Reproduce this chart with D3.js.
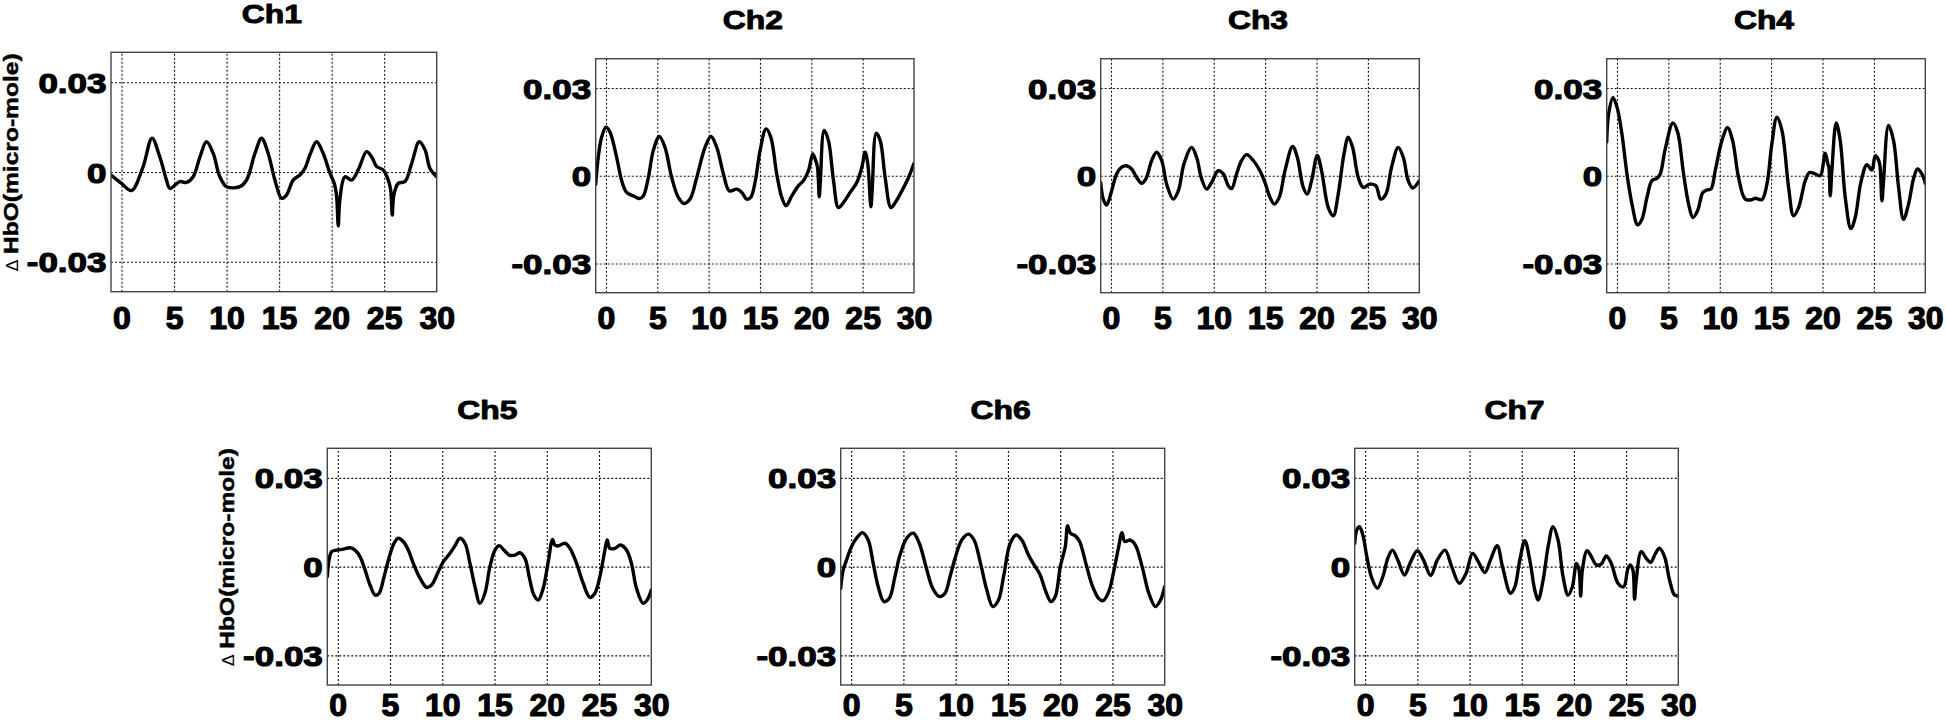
<!DOCTYPE html>
<html>
<head>
<meta charset="utf-8">
<script src="https://cdn.jsdelivr.net/npm/d3@7"></script>
<style>
  body { margin: 0; background: #fff; }
  svg { display: block; }
  text { font-family: "Liberation Sans", Arial, Helvetica, sans-serif; font-weight: bold; fill: #000; }
</style>
</head>
<body>
<svg id="chart" width="1946" height="723"></svg>
<script>
// ---------------- data ----------------
const channelNames = ["Ch1", "Ch2", "Ch3", "Ch4", "Ch5", "Ch6", "Ch7"];
const xTicks = [0, 5, 10, 15, 20, 25, 30];
const xTickLabels = ["0", "5", "10", "15", "20", "25", "30"];
const yTicks = [-0.03, 0, 0.03];
const yTickLabels = ["-0.03", "0", "0.03"];
const yLabelSymbol = "\u0394";
const yLabelText = "HbO(micro-mole)";
const xDomain = [-1, 30];
const yDomain = [-0.04, 0.04];

const ch1Time  = [-1, 0, 0.95, 2.06, 2.9, 3.65, 4.28, 4.6, 5.55, 6.19, 6.82, 7.46, 8.09, 8.73, 9.36, 10.0, 11.27, 11.9, 12.7, 13.33, 13.96, 14.6, 15.24, 15.7, 16.34, 16.98, 17.46, 17.93, 18.57, 19.2, 19.84, 20.25, 20.47, 20.63, 20.79, 21.27, 21.9, 22.53, 23.33, 23.8, 24.29, 24.9, 25.39, 25.62, 25.77, 25.93, 26.34, 26.98, 27.62, 28.34, 28.89, 29.36, 30];
const ch1Value = [-0.001, -0.0038, -0.0062, 0.0018, 0.0113, 0.005, -0.0027, -0.0055, -0.0032, -0.0035, -0.0016, 0.005, 0.0101, 0.0062, -0.0016, -0.0049, -0.0049, -0.0027, 0.0062, 0.0113, 0.0062, -0.0027, -0.0088, -0.0077, -0.0027, -0.001, 0.0012, 0.0057, 0.0101, 0.0062, -0.0004, -0.0038, -0.008, -0.018, -0.009, -0.0016, -0.0027, 0.0007, 0.0068, 0.0051, 0.0018, 0.0007, -0.0027, -0.006, -0.0144, -0.0075, -0.0038, -0.0032, 0.0029, 0.0101, 0.0074, 0.0012, -0.0016];

const ch2Time  = [-1, -0.75, -0.42, 0, 0.39, 1.04, 1.53, 2.01, 2.66, 3.25, 3.64, 4.13, 4.61, 5.2, 5.75, 6.4, 7.05, 7.6, 8.19, 8.84, 9.65, 10.23, 10.79, 11.44, 12.02, 12.74, 13.22, 13.71, 14.1, 14.52, 15.01, 15.59, 16.05, 16.63, 17.12, 17.54, 18.1, 18.75, 19.23, 19.72, 20.14, 20.37, 20.6, 20.77, 20.88, 21.25, 21.67, 22.16, 22.64, 23.13, 23.78, 24.43, 24.92, 25.24, 25.5, 25.8, 25.94, 26.32, 26.71, 27.19, 27.75, 28.17, 28.82, 29.47, 30];
const ch2Value = [-0.0029, 0.0063, 0.0132, 0.0166, 0.0149, 0.0063, -0.0017, -0.0057, -0.0069, -0.0078, -0.0069, -0.0006, 0.0086, 0.0134, 0.0097, -0.0006, -0.0074, -0.0095, -0.008, -0.0006, 0.0097, 0.0134, 0.0097, 0.0006, -0.0052, -0.0046, -0.0057, -0.008, -0.0074, -0.0023, 0.0086, 0.016, 0.0132, 0.0006, -0.0074, -0.0103, -0.0069, -0.0034, -0.0017, 0.0017, 0.0074, 0.0057, 0.0029, -0.0072, -0.002, 0.0155, 0.012, -0.0017, -0.0109, -0.0092, -0.0057, -0.0023, 0.0029, 0.008, 0.004, -0.0106, -0.004, 0.0145, 0.012, -0.0006, -0.0109, -0.0092, -0.0052, -0.0006, 0.0042];

const ch3Time  = [-1, -0.75, -0.42, 0.06, 0.55, 1.04, 1.52, 2.01, 2.5, 2.98, 3.4, 3.96, 4.44, 4.93, 5.42, 6.06, 6.55, 7.1, 7.85, 8.33, 8.82, 9.31, 9.79, 10.44, 10.93, 11.41, 11.74, 12.22, 12.71, 13.2, 13.85, 14.49, 14.98, 15.47, 15.89, 16.37, 16.93, 17.67, 18.13, 18.71, 19.1, 19.52, 20.07, 20.49, 21.14, 21.63, 22.11, 22.67, 23.09, 23.51, 24.06, 24.55, 25.19, 25.78, 26.23, 26.75, 27.3, 27.95, 28.44, 28.92, 29.35, 30];
const ch3Value = [-0.0023, -0.008, -0.01, -0.0052, 0.0006, 0.0029, 0.0034, 0.0023, -0.0006, -0.0026, -0.0011, 0.0052, 0.008, 0.0052, -0.0029, -0.008, -0.0052, 0.004, 0.0097, 0.0063, -0.0011, -0.0046, -0.0023, 0.0017, 0.0006, -0.0034, -0.0044, 0.0006, 0.0052, 0.0072, 0.0052, 0.0017, -0.0023, -0.0074, -0.0097, -0.0074, 0.0017, 0.01, 0.0063, -0.004, -0.0063, -0.0017, 0.0069, 0.0017, -0.0109, -0.0137, -0.0063, 0.0074, 0.0132, 0.0097, -0.0006, -0.004, -0.0029, -0.0034, -0.008, -0.0063, 0.0029, 0.0097, 0.0063, -0.0017, -0.0042, -0.0017];

const ch4Time  = [-1, -0.81, -0.39, 0, 0.48, 0.97, 1.46, 2.01, 2.43, 2.92, 3.4, 3.89, 4.21, 4.7, 5.44, 5.9, 6.48, 6.97, 7.39, 7.84, 8.36, 8.75, 9.14, 9.56, 10.21, 10.76, 11.25, 11.83, 12.48, 13.13, 13.45, 14.1, 14.59, 15.07, 15.56, 16.05, 16.7, 17.18, 17.67, 18.32, 18.74, 19.29, 19.78, 20.26, 20.52, 20.62, 20.75, 20.91, 21.33, 21.72, 22.21, 22.76, 23.18, 23.73, 24.32, 24.8, 25.13, 25.45, 25.6, 25.78, 25.94, 26.42, 26.91, 27.4, 27.88, 28.37, 28.85, 29.24, 29.67, 30];
const ch4Value = [0.0115, 0.0212, 0.0267, 0.0235, 0.0143, 0.0006, -0.0097, -0.0168, -0.0149, -0.0074, -0.0017, -0.0009, 0.0006, 0.0092, 0.018, 0.0149, 0.0006, -0.0097, -0.0143, -0.012, -0.0057, -0.0049, -0.0046, 0.0017, 0.012, 0.0164, 0.012, -0.0006, -0.008, -0.0082, -0.0077, -0.0082, -0.0029, 0.0109, 0.02, 0.0155, -0.004, -0.0137, -0.0109, -0.0017, 0.0011, 0.0006, 0.0, 0.0077, 0.004, 0.003, -0.0069, 0.0017, 0.018, 0.012, -0.0074, -0.0181, -0.0143, -0.0023, 0.0038, 0.0019, 0.0068, 0.0054, 0.003, -0.0086, -0.0017, 0.0172, 0.012, -0.004, -0.0149, -0.0097, -0.0011, 0.0023, 0.0006, -0.0026];

const ch5Time  = [-1, -0.83, -0.58, -0.1, 0.54, 1.18, 1.65, 2.13, 2.61, 3.09, 3.57, 3.95, 4.43, 4.94, 5.38, 5.8, 6.27, 6.75, 7.23, 7.87, 8.51, 8.98, 9.62, 10.1, 10.74, 11.21, 11.69, 12.17, 12.65, 13.13, 13.6, 14.08, 14.56, 15.04, 15.45, 15.9, 16.41, 16.95, 17.43, 17.91, 18.38, 18.77, 19.18, 19.66, 20.14, 20.55, 20.77, 21.09, 21.73, 22.21, 22.85, 23.48, 24.12, 24.6, 25.08, 25.56, 25.78, 26.03, 26.51, 27.05, 27.63, 28.1, 28.58, 29.22, 29.6, 30];
const ch5Value = [-0.0034, 0.0023, 0.0051, 0.0056, 0.0059, 0.0064, 0.0056, 0.0034, -0.0011, -0.0062, -0.0096, -0.009, -0.0034, 0.0034, 0.0079, 0.0096, 0.0085, 0.0056, 0.0011, -0.0039, -0.007, -0.0062, -0.0017, 0.0017, 0.0045, 0.007, 0.0096, 0.0079, 0.0011, -0.0068, -0.0124, -0.009, 0.0, 0.0056, 0.0071, 0.0056, 0.0039, 0.0039, 0.0047, 0.0028, -0.0045, -0.0096, -0.0113, -0.0073, 0.0017, 0.0092, 0.0073, 0.007, 0.0079, 0.0062, 0.0011, -0.0056, -0.0104, -0.009, -0.0034, 0.0056, 0.009, 0.0062, 0.0062, 0.0073, 0.0056, 0.0011, -0.0073, -0.0124, -0.0113, -0.0079];

const ch6Time  = [-1, -0.76, -0.44, 0.04, 0.51, 1.09, 1.63, 2.11, 2.59, 3.14, 3.65, 4.19, 4.67, 5.31, 5.95, 6.52, 7.16, 7.8, 8.44, 8.98, 9.46, 9.94, 10.58, 11.22, 11.76, 12.34, 12.98, 13.55, 14.1, 14.58, 15.22, 15.79, 16.33, 16.97, 17.61, 18.09, 18.57, 19.12, 19.53, 20.01, 20.49, 20.71, 20.97, 21.45, 21.86, 22.41, 23.05, 23.68, 24.1, 24.64, 25.12, 25.6, 25.92, 26.18, 26.72, 27.2, 27.84, 28.48, 29.12, 29.6, 30];
const ch6Value = [-0.0073, -0.0011, 0.0023, 0.0068, 0.0096, 0.0115, 0.009, 0.0011, -0.0068, -0.0118, -0.0107, -0.0034, 0.0039, 0.0096, 0.0113, 0.0079, 0.0, -0.0073, -0.0101, -0.009, -0.0034, 0.0028, 0.009, 0.011, 0.009, 0.0017, -0.0079, -0.0135, -0.0113, -0.0034, 0.0079, 0.0107, 0.009, 0.0039, 0.0, -0.0028, -0.0079, -0.0118, -0.0101, 0.0, 0.0068, 0.0138, 0.0113, 0.0104, 0.0085, 0.0017, -0.0062, -0.0107, -0.0115, -0.0085, -0.0017, 0.0068, 0.0115, 0.0085, 0.009, 0.0073, 0.0, -0.009, -0.0135, -0.0113, -0.0068];

const ch7Time  = [-1, -0.8, -0.54, -0.22, 0.16, 0.64, 1.18, 1.69, 2.17, 2.61, 3.12, 3.76, 4.37, 5.0, 5.58, 6.28, 6.92, 7.65, 8.29, 9.02, 9.66, 10.29, 10.84, 11.47, 12.01, 12.65, 13.16, 13.93, 14.34, 14.82, 15.3, 15.77, 16.25, 16.57, 17.05, 17.53, 18.0, 18.48, 18.96, 19.44, 19.85, 20.24, 20.49, 20.65, 20.81, 21.26, 21.67, 22.15, 22.63, 23.1, 23.58, 24.22, 24.76, 25.18, 25.4, 25.65, 25.81, 25.97, 26.45, 26.93, 27.34, 27.82, 28.2, 28.68, 29.16, 29.64, 30];
const ch7Value = [0.0079, 0.0124, 0.0135, 0.0107, 0.0034, -0.0039, -0.0073, -0.0034, 0.0028, 0.0056, 0.0023, -0.0028, 0.0017, 0.0054, 0.0023, -0.003, 0.0023, 0.0056, 0.0, -0.0056, -0.0023, 0.0045, 0.0017, -0.002, 0.0023, 0.0071, 0.0, -0.009, -0.0068, 0.0023, 0.0088, 0.0023, -0.0079, -0.0113, -0.0045, 0.0068, 0.0135, 0.009, -0.0034, -0.0096, -0.0068, 0.0011, -0.0011, -0.0099, -0.0011, 0.0054, 0.0034, 0.0006, 0.0009, 0.0036, 0.0011, -0.0056, -0.0068, -0.0006, 0.0006, -0.0011, -0.011, -0.0045, 0.0051, 0.0028, 0.0014, 0.0045, 0.0062, 0.0034, -0.0045, -0.0096, -0.0099];

const channelTimes  = [ch1Time, ch2Time, ch3Time, ch4Time, ch5Time, ch6Time, ch7Time];
const channelValues = [ch1Value, ch2Value, ch3Value, ch4Value, ch5Value, ch6Value, ch7Value];
const showYLabel = [true, false, false, false, true, false, false];

// ---------------- layout (positions, not data) ----------------
const panelBoxes = [
  { l: 111,    r: 436.7,  t: 52.3,  b: 291.7, xl: 37.5 },
  { l: 595.7,  r: 914,    t: 58.7,  b: 292.7, xl: 36.5 },
  { l: 1100.7, r: 1419.3, t: 58.7,  b: 292.7, xl: 36.5 },
  { l: 1606.7, r: 1925.3, t: 58.7,  b: 292.7, xl: 36.5 },
  { l: 327.3,  r: 651.3,  t: 448.3, b: 685,   xl: 31 },
  { l: 840.7,  r: 1164.7, t: 448.3, b: 685,   xl: 31 },
  { l: 1354.7, r: 1678.3, t: 448.3, b: 685,   xl: 31 }
];
const textStretch = 1.25;

const svg = d3.select("#chart");
const defs = svg.append("defs");

function heavy(sel, w) {
  sel.attr("stroke", "#000").attr("stroke-width", w).attr("stroke-linejoin", "round");
}

channelNames.forEach((name, i) => {
  const box = panelBoxes[i];
  const w = box.r - box.l, h = box.b - box.t;
  const x = d3.scaleLinear().domain(xDomain).range([0, w]);
  const y = d3.scaleLinear().domain(yDomain).range([h, 0]);
  const g = svg.append("g").attr("transform", `translate(${box.l},${box.t})`);

  defs.append("clipPath").attr("id", "clip" + i)
    .append("rect").attr("x", 0).attr("y", 0).attr("width", w).attr("height", h);

  // grid via axes
  const gx = g.append("g").attr("class", "grid")
    .attr("transform", `translate(0,${h})`)
    .call(d3.axisBottom(x).tickValues(xTicks.filter(v => v < xDomain[1])).tickSize(-h).tickFormat(""));
  const gy = g.append("g").attr("class", "grid")
    .call(d3.axisLeft(y).tickValues(yTicks).tickSize(-w).tickFormat(""));
  [gx, gy].forEach(a => {
    a.select(".domain").remove();
    a.selectAll("line").attr("stroke", "#111").attr("stroke-width", 1.1).attr("stroke-dasharray", "2,2");
  });

  // data line
  const pts = channelTimes[i].map((t, k) => [t, channelValues[i][k]]);
  const line = d3.line().x(d => x(d[0])).y(d => y(d[1])).curve(d3.curveCatmullRom.alpha(0.5));
  g.append("path").datum(pts)
    .attr("clip-path", `url(#clip${i})`)
    .attr("d", line)
    .attr("fill", "none").attr("stroke", "#000")
    .attr("stroke-width", 3.4).attr("stroke-linejoin", "round").attr("stroke-linecap", "round");

  // box
  g.append("rect").attr("x", 0).attr("y", 0).attr("width", w).attr("height", h)
    .attr("fill", "none").attr("stroke", "#444").attr("stroke-width", 1.4);

  // x axis labels
  const ax = g.append("g").attr("transform", `translate(0,${h})`)
    .call(d3.axisBottom(x).tickValues(xTicks).tickSize(0).tickFormat((d, k) => xTickLabels[k]));
  ax.select(".domain").remove();
  ax.selectAll("text").attr("y", box.xl).attr("dy", null)
    .style("font-size", "32px").attr("font-family", null).attr("fill", "#000")
    .call(heavy, 1.2);

  // y axis labels
  const ay = g.append("g")
    .call(d3.axisLeft(y).tickValues(yTicks).tickSize(0).tickFormat((d, k) => yTickLabels[k]));
  ay.select(".domain").remove();
  ay.selectAll("text").attr("x", -4.5 / textStretch).attr("dy", "0.36em")
    .attr("transform", `scale(${textStretch},1)`)
    .style("font-size", "28px").attr("font-family", null).attr("fill", "#000")
    .call(heavy, 1.1);

  // title
  g.append("text")
    .attr("transform", `translate(${w / 2 - 2},${-29.5}) scale(${textStretch},1)`)
    .attr("text-anchor", "middle")
    .style("font-size", "25.5px")
    .call(heavy, 0.9)
    .text(name);

  // y label
  if (showYLabel[i]) {
    const lbl = g.append("text")
      .attr("transform", `translate(${-93},${h / 2 - 9.5}) rotate(-90) scale(1.17,1)`)
      .attr("text-anchor", "middle")
      .style("font-size", "21px");
    lbl.append("tspan").style("font-weight", "normal").style("font-size", "15px")
      .attr("font-family", "DejaVu Sans").text(yLabelSymbol + " ");
    lbl.append("tspan").call(heavy, 0.5).text(yLabelText);
  }
});
</script>
</body>
</html>
